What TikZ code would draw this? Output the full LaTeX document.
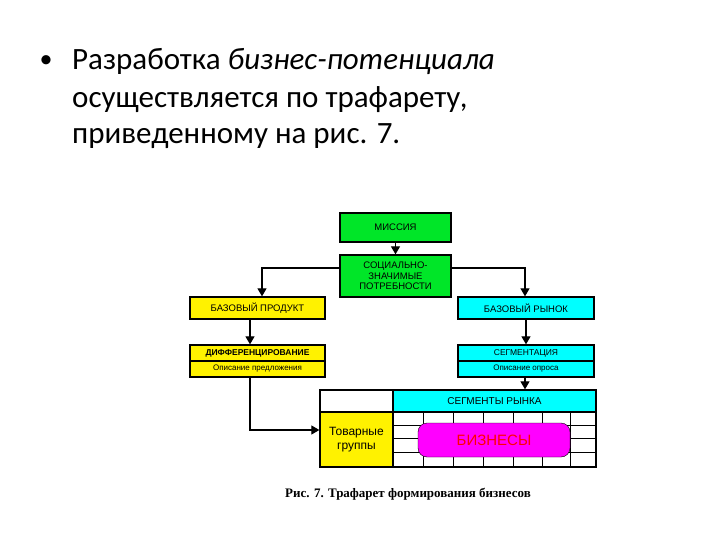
\documentclass[tikz,border=0pt]{standalone}
\usepackage{fontspec}
\setmainfont{Carlito}
\newfontfamily\arl{Liberation Sans}
\newfontfamily\tms{Liberation Serif}
\usetikzlibrary{arrows.meta}
\definecolor{gr}{RGB}{0,230,40}
\definecolor{cy}{RGB}{0,255,255}
\definecolor{mg}{RGB}{255,0,255}
\begin{document}
\begin{tikzpicture}[x=1pt,y=-1pt,
 bx/.style={draw,line width=1.3pt,font=\arl\fontsize{9.5}{10.5}\selectfont,align=center,inner sep=0pt},
 arr/.style={line width=1.2pt,-{Triangle[length=8pt,width=9pt]}},
 ln/.style={line width=1.2pt}]
\useasboundingbox[fill=white] (0,0) rectangle (720,540);
\node[anchor=west,font=\fontsize{26}{30}\selectfont] (b) at (36,62) {•};
\node[anchor=west,font=\fontsize{31}{36}\selectfont,inner sep=0pt] (t1) at (72,62) {Разработка \textit{бизнес-потенциала}};
\node[anchor=west,font=\fontsize{31}{36}\selectfont,inner sep=0pt] (t2) at (72,100) {осуществляется по трафарету,};
\node[anchor=west,font=\fontsize{31}{36}\selectfont,inner sep=0pt] (t3) at (72,136) {приведенному на рис. 7.};
\node[bx,fill=gr,minimum width=111pt,minimum height=29pt] (m) at (395.5,227.5) {МИССИЯ};
\node[bx,fill=gr,minimum width=111pt,minimum height=42pt] (s) at (395.5,276) {СОЦИАЛЬНО-\\ЗНАЧИМЫЕ\\ПОТРЕБНОСТИ};
\node[bx,fill=yellow,minimum width=135pt,minimum height=22pt] (bp) at (257.5,308) {БАЗОВЫЙ ПРОДУКТ};
\node[bx,fill=cy,minimum width=136pt,minimum height=22pt] (br) at (526,308) {БАЗОВЫЙ РЫНОК};
\node[bx,fill=yellow,minimum width=135pt,minimum height=32pt] (d) at (257.5,361) {};
\draw[line width=1.2pt] (d.west) -- (d.east);
\node[font=\arl\fontsize{8.5}{9}\selectfont\bfseries] (d1) at (257.5,353) {ДИФФЕРЕНЦИРОВАНИЕ};
\node[font=\arl\fontsize{8}{9}\selectfont] (d2) at (257.5,369) {Описание предложения};
\node[bx,fill=cy,minimum width=136pt,minimum height=32pt] (g) at (526,361) {};
\draw[line width=1.2pt] (g.west) -- (g.east);
\node[font=\arl\fontsize{8.5}{9}\selectfont] (g1) at (526,353) {СЕГМЕНТАЦИЯ};
\node[font=\arl\fontsize{8}{9}\selectfont] (g2) at (526,369) {Описание опроса};
% table
\node[bx,fill=white,minimum width=276pt,minimum height=77pt] (tab) at (458,428.5) {};
\node[bx,fill=cy,minimum width=203pt,minimum height=22pt,font=\arl\fontsize{10}{11}\selectfont] (h) at (494.5,401) {СЕГМЕНТЫ РЫНКА};
\node[bx,fill=yellow,minimum width=73pt,minimum height=55pt,font=\arl\fontsize{12}{14}\selectfont] (tg) at (356.5,439.5) {Товарные\\группы};
\foreach \x in {423,453,483,513,542,570} \draw[line width=0.9pt] (\x,412) -- (\x,467);
\foreach \y in {425,438,452} \draw[line width=0.9pt] (393,\y) -- (596,\y);
\node[draw,fill=mg,rounded corners=9pt,minimum width=152pt,minimum height=34pt,text=red,font=\arl\fontsize{15}{17}\selectfont] (biz) at (494,440) {БИЗНЕСЫ};
\draw[line width=1.3pt] (tab.north west) rectangle (tab.south east);
% arrows
\draw[arr] (m) -- (s);
\draw[ln] (s.west|-0,268) -| (262,290);
\draw[arr] (262,286) -- (bp.north-|262,0);
\draw[ln] (s.east|-0,268) -| (525,290);
\draw[arr] (525,286) -- (br.north-|525,0);
\draw[arr] (bp.south-|250,0) -- (d.north-|250,0);
\draw[arr] (br) -- (g);
\draw[arr] (d.south-|250,0) |- (tg.west|-0,430);
\draw[arr] (g.south-|525,0) -- (h.north-|525,0);
\node[font=\tms\bfseries\fontsize{13}{15}\selectfont] (cap) at (408,494) {Рис. 7. Трафарет формирования бизнесов};
\end{tikzpicture}
\end{document}
